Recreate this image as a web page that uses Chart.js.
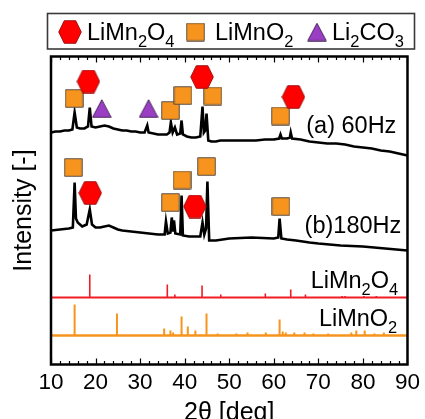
<!DOCTYPE html>
<html>
<head>
<meta charset="utf-8">
<script src="https://cdn.jsdelivr.net/npm/chart.js@4/dist/chart.umd.min.js"></script>
<style>
html,body{margin:0;padding:0;background:#fff;}
canvas{display:block;}
</style>
</head>
<body>
<canvas id="c" width="425" height="419" style="width:425px;height:419px"></canvas>
<script>
// ---------- DATA ----------
const xTicks = [10, 20, 30, 40, 50, 60, 70, 80, 90];

// (a) 60Hz trace : [2theta, intensity(a.u.)]
const trace60Hz = [[10,232],[11,233],[12,233],[13,234],[14,234],[14.8,235],[15.3,252],[15.8,237],[16.5,236],[17.5,236],
 [18.3,238],[18.7,257],[19.1,238],[20,237],[21,238],[22,239],[23,238],[24,236],[25,235],[26,234],
 [27,234],[28,233],[29,233],[30,232],[31,232],[31.6,239],[31.9,232],[33,231],[34,230],[35,230],
 [36,230],[36.6,232],[36.9,242],[37.3,232],[37.8,237],[38.3,230],[39.0,231],[39.3,244],[39.6,230],[40.5,228],
 [41.5,227],[42.5,227],[43.5,228],[44.0,258],[44.3,232],[44.6,234],[44.9,251],[45.3,224],[46,223],[47,223],
 [48,224],[50,224],[52,224],[54,224],[56,224],[58,225],[60,225],[61.2,226],[61.5,230],[61.8,226],
 [63,226],[63.6,227],[63.8,232],[64.1,226],[66,225],[68,223],[70,222],[72,221],[74,221],[76,220],
 [78,218],[80,217],[82,216],[84,214],[86,213],[88,211],[90,209]];

// (b) 180Hz trace
const trace180Hz = [[10,134],[12,135],[14,136],[14.9,137],[15.3,182],[15.6,146],[16,142],[17,138],[18,140],[18.7,155],
 [19.2,140],[20,137],[21,137],[22,138],[23,139],[24,137],[25,135],[26,134],[28,133],[30,132],
 [32,131],[34,130],[35.5,130],[35.8,143],[36.2,131],[36.8,132],[37.1,147],[37.4,134],[37.6,144],[37.9,131],
 [39.0,130],[39.3,169],[39.6,129],[41,128],[42,128],[43.5,128],[44.0,142],[44.4,130],[44.8,136],[45.1,183],
 [45.5,124],[47,124],[50,126],[55,127],[60,126],[61.0,127],[61.3,146],[61.7,126],[63,125],[65,124],
 [68,122],[70,121],[75,119],[80,118],[85,116],[90,114]];

// Reference stick patterns: positions and heights, baselines
const spinelRefPos = [18.7, 36.1, 37.8, 43.9, 48.1, 58.1, 63.8, 67.1, 75.3, 76.0, 80.2, 83.0];
const spinelRefHt  = [23, 13, 3, 12, 3, 4, 8, 3, 1.5, 1.5, 1.5, 1.5];
const spinelRefBase = 67;
const layeredRefPos = [15.3, 24.8, 35.4, 36.8, 37.4, 39.3, 40.7, 42.4, 44.9, 47.4, 51.6, 54.1, 58.2, 61.3, 62.0, 62.7, 64.6, 66.9, 68.9, 72.2, 77.4, 78.5, 80.4, 82.6, 84.7];
const layeredRefHt  = [31, 22, 7, 5, 3, 19, 9, 5, 22, 2, 2, 3, 3, 16, 4, 3, 3, 3, 2, 2, 3, 5, 5, 2, 3];
const layeredRefBase = 29;

// Phase markers [2theta, intensity]
const spinelMarks    = [[18.4,283],[43.9,287.5],[64.4,267.5],[18.8,171.5],[42.3,158]];
const layeredMarks   = [[15.2,266],[36.8,254],[39.6,269],[46.3,268.5],[61.5,248.5],[15.0,197],[36.8,162],[39.4,184.5],[44.9,198],[61.6,158]];
const carbonateMarks = [[21.4,256],[31.9,256]];

// Legend / labels text
const legendItems = ['LiMn_2O_4', 'LiMnO_2', 'Li_2CO_3'];
const traceLabels = ['(a) 60Hz', '(b)180Hz'];
const refLabels = ['LiMn_2O_4', 'LiMnO_2'];

// ---------- STYLE ----------
const RED = '#f01c24', ORANGE = '#f7941d', PURPLE = '#9a3fc4', EDGE = '#5b5048';
const FONT = '"Liberation Sans", Arial, Helvetica, sans-serif';

function makeMarker(kind) {
  const c = document.createElement('canvas');
  let w, h;
  if (kind === 'hex') { w = 24; h = 24; } else if (kind === 'sq') { w = 19; h = 19; } else { w = 20; h = 19; }
  c.width = w; c.height = h;
  const g = c.getContext('2d');
  g.beginPath();
  const m = 0.75;
  if (kind === 'hex') {
    g.moveTo(m, h/2); g.lineTo(w*0.26, m); g.lineTo(w*0.74, m); g.lineTo(w-m, h/2); g.lineTo(w*0.74, h-m); g.lineTo(w*0.26, h-m);
    g.fillStyle = '#ff0000'; g.strokeStyle = '#9c1010';
  } else if (kind === 'sq') {
    g.rect(m, m, w-2*m, h-2*m);
    g.fillStyle = ORANGE; g.strokeStyle = EDGE;
  } else {
    g.moveTo(w/2, m); g.lineTo(w-m, h-m); g.lineTo(m, h-m);
    g.fillStyle = PURPLE; g.strokeStyle = '#4b2a5e';
  }
  g.closePath(); g.fill(); g.lineWidth = 1; g.stroke();
  return c;
}
const hexImg = makeMarker('hex'), sqImg = makeMarker('sq'), triImg = makeMarker('tri');

function sticks(pos, ht, base) {
  const out = [];
  pos.forEach((p, i) => { out.push({x: p, y: base}, {x: p, y: base + ht[i]}, {x: p, y: null}); });
  return out;
}
const pairs = a => a.map(([x, y]) => ({x, y}));

// rich text with subscripts ("_d")
function parseChem(s) {
  const parts = []; let i = 0, buf = '';
  while (i < s.length) {
    if (s[i] === '_') { if (buf) parts.push([buf, false]); buf = ''; parts.push([s[i+1], true]); i += 2; }
    else { buf += s[i]; i++; }
  }
  if (buf) parts.push([buf, false]);
  return parts;
}
function drawChem(ctx, s, x, y, size, align) {
  const parts = parseChem(s);
  const sub = size * 0.7, drop = size * 0.3;
  let total = 0;
  const ws = parts.map(([t, isSub]) => { ctx.font = (isSub ? sub : size) + 'px ' + FONT; const w = ctx.measureText(t).width; total += w; return w; });
  let cx = align === 'right' ? x - total : x;
  ctx.textBaseline = 'alphabetic'; ctx.textAlign = 'left'; ctx.fillStyle = '#000';
  parts.forEach(([t, isSub], i) => {
    ctx.font = (isSub ? sub : size) + 'px ' + FONT;
    ctx.fillText(t, cx, isSub ? y + drop : y);
    cx += ws[i];
  });
}

const decoPlugin = {
  id: 'deco',
  afterDatasetsDraw(chart) {
    const ctx = chart.ctx, a = chart.chartArea, xs = chart.scales.x, ys = chart.scales.y;
    ctx.save();
    // frame
    ctx.strokeStyle = '#000'; ctx.lineWidth = 2.5;
    ctx.strokeRect(a.left, a.top, a.right - a.left, a.bottom - a.top);
    // inward ticks top & bottom
    ctx.lineWidth = 1.2;
    for (let v = 10; v <= 90; v += 2) {
      const px = Math.round(xs.getPixelForValue(v)) + 0.5;
      const len = (v % 10 === 0) ? 6 : 3.5;
      ctx.beginPath();
      ctx.moveTo(px, a.bottom); ctx.lineTo(px, a.bottom - len);
      ctx.moveTo(px, a.top); ctx.lineTo(px, a.top + len);
      ctx.stroke();
    }
    // trace labels
    ctx.fillStyle = '#000'; ctx.textAlign = 'right'; ctx.textBaseline = 'alphabetic';
    ctx.font = '23.5px ' + FONT;
    ctx.fillText(traceLabels[0], xs.getPixelForValue(87.5), ys.getPixelForValue(231.5));
    ctx.fillText(traceLabels[1], xs.getPixelForValue(88.6), ys.getPixelForValue(131.5));
    drawChem(ctx, refLabels[0], xs.getPixelForValue(87.9), ys.getPixelForValue(76.5), 23.5, 'right');
    drawChem(ctx, refLabels[1], xs.getPixelForValue(87.7), ys.getPixelForValue(38.5), 23.5, 'right');
    // legend box
    ctx.strokeStyle = '#3a3a3a'; ctx.lineWidth = 1.6;
    ctx.strokeRect(47.5, 13.5, 367, 35.5);
    ctx.drawImage(hexImg, 58, 20);
    drawChem(ctx, legendItems[0], 87, 40, 23.5, 'left');
    ctx.drawImage(sqImg, 186, 22.5);
    drawChem(ctx, legendItems[1], 215, 40, 23.5, 'left');
    ctx.drawImage(triImg, 307, 22.5);
    drawChem(ctx, legendItems[2], 332, 40, 23.5, 'left');
    ctx.restore();
  }
};

new Chart(document.getElementById('c'), {
  type: 'scatter',
  data: {
    datasets: [
      {type: 'scatter', data: pairs(spinelMarks), pointStyle: hexImg, order: 0},
      {type: 'scatter', data: pairs(layeredMarks), pointStyle: sqImg, order: 0},
      {type: 'scatter', data: pairs(carbonateMarks), pointStyle: triImg, order: 0},
      {type: 'line', data: pairs(trace60Hz), borderColor: '#000', borderWidth: 2.6, pointRadius: 0, tension: 0, order: 5},
      {type: 'line', data: pairs(trace180Hz), borderColor: '#000', borderWidth: 2.6, pointRadius: 0, tension: 0, order: 5},
      {type: 'line', data: sticks(spinelRefPos, spinelRefHt, spinelRefBase), borderColor: RED, borderWidth: 1.6, pointRadius: 0, spanGaps: false, order: 6},
      {type: 'line', data: [{x: 10, y: spinelRefBase}, {x: 90, y: spinelRefBase}], borderColor: RED, borderWidth: 2, pointRadius: 0, order: 6},
      {type: 'line', data: sticks(layeredRefPos, layeredRefHt, layeredRefBase), borderColor: ORANGE, borderWidth: 2, pointRadius: 0, spanGaps: false, order: 6},
      {type: 'line', data: [{x: 10, y: layeredRefBase}, {x: 90, y: layeredRefBase}], borderColor: ORANGE, borderWidth: 2.5, pointRadius: 0, order: 6}
    ]
  },
  options: {
    responsive: false,
    animation: false,
    events: [],
    layout: {padding: {top: 56.5, right: 15.5, left: 0, bottom: 0}},
    scales: {
      x: {
        type: 'linear', min: 10, max: 90, offset: false,
        afterBuildTicks: s => { s.ticks = xTicks.map(v => ({value: v})); },
        afterFit: s => { s.height = 54.5; },
        ticks: {color: '#000', font: {family: FONT, size: 22.5}, padding: 5, maxRotation: 0, autoSkip: false},
        grid: {display: false, drawTicks: false},
        border: {display: false},
        title: {display: true, text: '2θ [deg]', color: '#000', font: {family: FONT, size: 25}, padding: {top: 0, bottom: -9}}
      },
      y: {
        type: 'linear', min: 0, max: 308,
        afterFit: s => { s.width = 51; },
        ticks: {display: false},
        grid: {display: false, drawTicks: false},
        border: {display: false},
        title: {display: true, text: 'Intensity [-]', color: '#000', font: {family: FONT, size: 25}, padding: {top: 9.5, bottom: 0}}
      }
    },
    plugins: {legend: {display: false}, tooltip: {enabled: false}}
  },
  plugins: [decoPlugin]
});
</script>
</body>
</html>
